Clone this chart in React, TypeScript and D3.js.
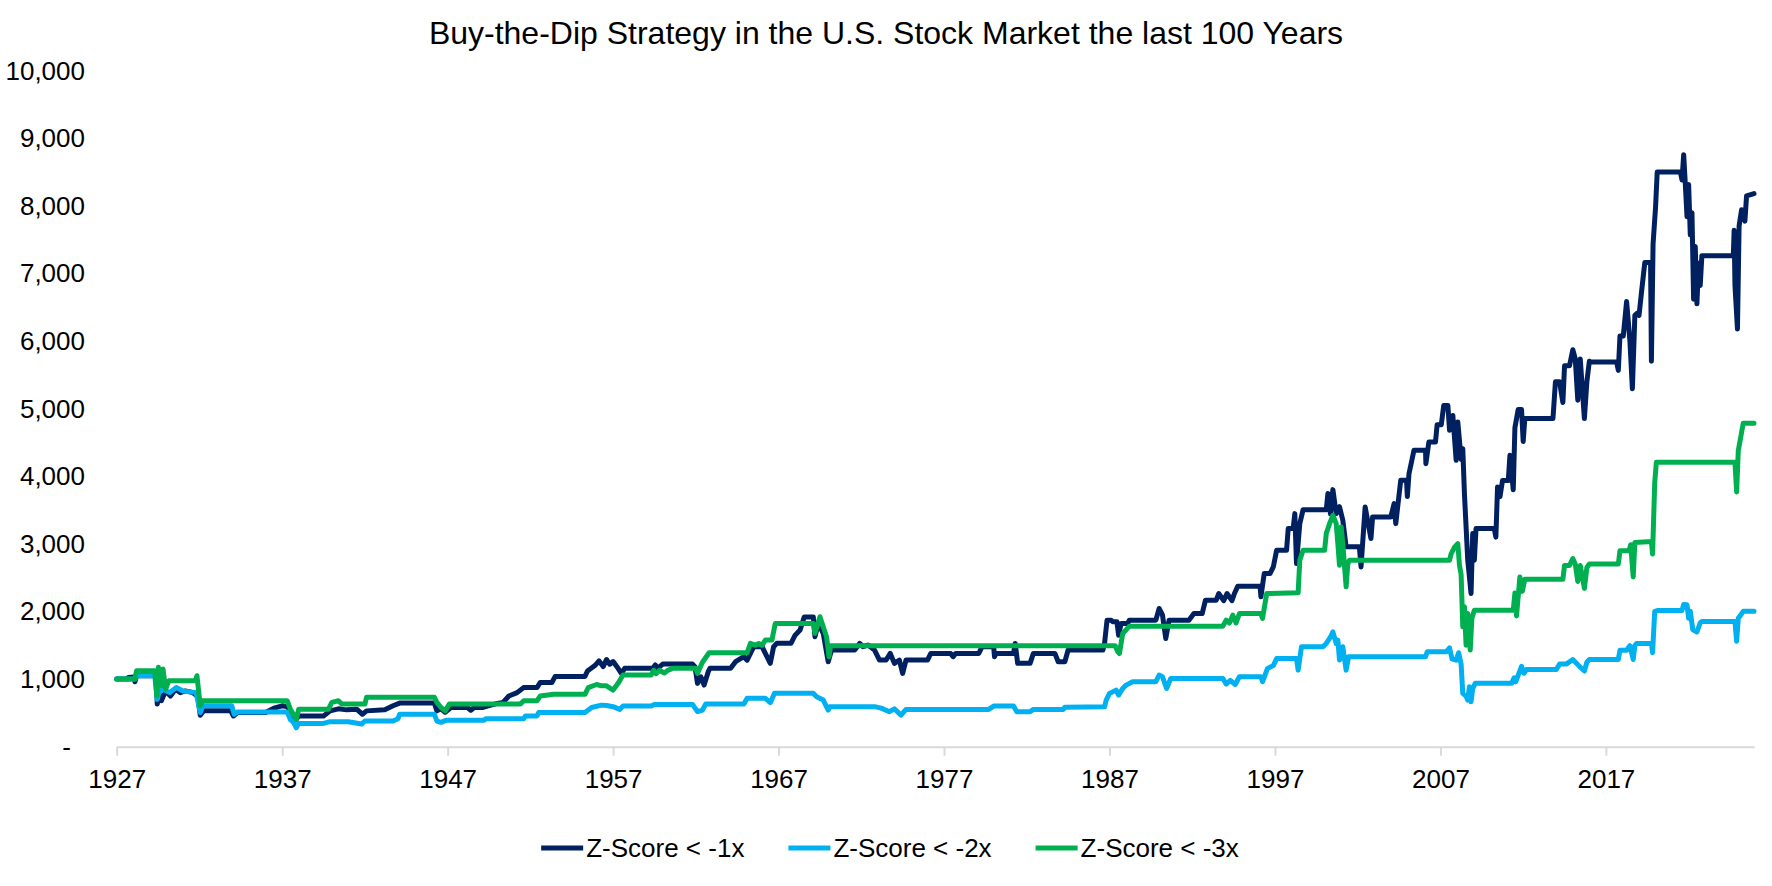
import React, { useEffect, useRef } from 'react'
import * as d3 from 'd3'

type Pt = [number, number]

const title = 'Buy-the-Dip Strategy in the U.S. Stock Market the last 100 Years'
const seriesNames = ['Z-Score < -1x', 'Z-Score < -2x', 'Z-Score < -3x']
const seriesColors = ['#002060', '#00B0F0', '#00B050']
const yTicks = [0, 1000, 2000, 3000, 4000, 5000, 6000, 7000, 8000, 9000, 10000]
const xTicks = [1927, 1937, 1947, 1957, 1967, 1977, 1987, 1997, 2007, 2017]
const xEnd = 2025.95

// [year, portfolio value] — buy when z-score < -1
const zMinus1: Pt[] = [
  [1927.0, 1000], [1927.65, 1000], [1927.7, 1025], [1928.05, 1030], [1928.1, 960], [1928.2, 1050],
  [1929.3, 1050], [1929.4, 1000], [1929.45, 630], [1929.55, 800], [1929.7, 680], [1929.95, 825],
  [1930.25, 750], [1930.55, 850], [1930.85, 800], [1931.15, 825], [1931.6, 800], [1931.9, 740],
  [1932.05, 465], [1932.25, 530], [1933.9, 530], [1934.05, 455], [1934.3, 505], [1936.0, 505],
  [1936.5, 570], [1937.0, 605], [1937.35, 590], [1937.55, 455], [1937.85, 405], [1938.0, 455],
  [1939.5, 455], [1939.9, 530], [1940.4, 560], [1940.9, 545], [1941.5, 555], [1941.85, 480],
  [1942.1, 530], [1943.2, 545], [1943.7, 605], [1944.1, 645], [1946.2, 645], [1946.35, 530],
  [1946.6, 560], [1946.85, 510], [1947.2, 580], [1948.2, 580], [1948.4, 540], [1948.6, 580],
  [1949.1, 580], [1949.4, 600], [1950.0, 640], [1950.35, 655], [1950.7, 750], [1951.2, 800],
  [1951.6, 875], [1952.4, 875], [1952.6, 950], [1953.3, 950], [1953.5, 1040], [1955.3, 1040],
  [1955.45, 1120], [1955.9, 1200], [1956.15, 1270], [1956.4, 1185], [1956.6, 1290], [1956.8, 1220],
  [1957.0, 1260], [1957.3, 1160], [1957.5, 1085], [1957.7, 1160], [1959.4, 1160], [1959.55, 1210],
  [1959.7, 1160], [1960.0, 1223], [1961.8, 1223], [1961.95, 1180], [1962.1, 937], [1962.3, 1035],
  [1962.5, 912], [1962.75, 1110], [1962.85, 1160], [1964.1, 1160], [1964.4, 1257], [1964.9, 1331],
  [1965.1, 1280], [1965.5, 1480], [1966.0, 1480], [1966.2, 1380], [1966.5, 1233], [1966.7, 1480],
  [1966.9, 1530], [1967.75, 1530], [1968.0, 1650], [1968.3, 1725], [1968.55, 1920], [1969.1, 1920],
  [1969.2, 1627], [1969.4, 1824], [1969.7, 1676], [1970.0, 1257], [1970.2, 1430], [1971.6, 1430],
  [1971.9, 1528], [1972.1, 1480], [1972.4, 1504], [1972.8, 1430], [1973.1, 1282], [1973.5, 1282],
  [1973.75, 1380], [1974.0, 1233], [1974.3, 1282], [1974.5, 1085], [1974.7, 1282], [1976.0, 1282],
  [1976.2, 1380], [1977.4, 1380], [1977.55, 1331], [1977.7, 1380], [1979.1, 1380], [1979.3, 1479],
  [1980.0, 1479], [1980.05, 1331], [1980.15, 1380], [1981.2, 1380], [1981.3, 1528], [1981.45, 1233],
  [1982.2, 1233], [1982.4, 1380], [1983.7, 1380], [1983.9, 1257], [1984.3, 1257], [1984.5, 1430],
  [1986.6, 1430], [1986.7, 1527], [1986.85, 1872], [1987.1, 1872], [1987.2, 1847], [1987.45, 1847],
  [1987.55, 1650], [1987.7, 1823], [1988.1, 1823], [1988.2, 1872], [1989.8, 1872], [1990.0, 2044],
  [1990.2, 1950], [1990.4, 1601], [1990.6, 1872], [1991.8, 1872], [1992.1, 1970], [1992.6, 1970],
  [1992.8, 2167], [1993.45, 2167], [1993.6, 2266], [1993.9, 2160], [1994.1, 2266], [1994.4, 2160],
  [1994.55, 2266], [1994.75, 2374], [1996.1, 2374], [1996.15, 2217], [1996.35, 2562], [1996.7, 2562],
  [1996.9, 2660], [1997.1, 2906], [1997.7, 2906], [1997.8, 3226], [1998.1, 3226], [1998.2, 3448],
  [1998.3, 2709], [1998.5, 3300], [1998.7, 3507], [2000.1, 3507], [2000.2, 3744], [2000.35, 3448],
  [2000.5, 3803], [2000.7, 3448], [2000.9, 3550], [2001.1, 3350], [2001.3, 2956], [2002.1, 2956],
  [2002.2, 2660], [2002.45, 3547], [2002.8, 3079], [2002.9, 3399], [2004.0, 3399], [2004.2, 3596],
  [2004.3, 3300], [2004.6, 3941], [2004.95, 3941], [2005.0, 3700], [2005.1, 4039], [2005.4, 4384],
  [2006.1, 4384], [2006.12, 4187], [2006.3, 4507], [2006.7, 4507], [2006.8, 4763], [2007.05, 4763],
  [2007.2, 5049], [2007.45, 5049], [2007.55, 4680], [2007.75, 4900], [2007.95, 4236], [2008.05, 4803],
  [2008.25, 4250], [2008.35, 4409], [2008.45, 3744], [2008.65, 2759], [2008.85, 2266], [2008.95, 3153],
  [2009.05, 2759], [2009.15, 3226], [2010.25, 3226], [2010.35, 3100], [2010.45, 3842], [2010.6, 3700],
  [2010.75, 3937], [2011.1, 3937], [2011.2, 4311], [2011.4, 3802], [2011.5, 4718], [2011.7, 4990],
  [2011.9, 4990], [2012.0, 4515], [2012.1, 4854], [2013.8, 4854], [2013.95, 5397], [2014.2, 5397],
  [2014.4, 5092], [2014.5, 5635], [2014.8, 5635], [2015.0, 5872], [2015.15, 5735], [2015.3, 5126],
  [2015.45, 5737], [2015.7, 4854], [2015.85, 5400], [2016.0, 5703], [2016.1, 5689], [2017.65, 5689],
  [2017.75, 5567], [2017.85, 6076], [2018.05, 6076], [2018.25, 6585], [2018.45, 6008], [2018.6, 5295],
  [2018.75, 6381], [2018.9, 6415], [2019.0, 6380], [2019.15, 6721], [2019.35, 7162], [2019.7, 7162],
  [2019.75, 5703], [2019.85, 7434], [2020.0, 7977], [2020.1, 8500], [2021.5, 8500], [2021.6, 8384],
  [2021.7, 8758], [2021.8, 8317], [2021.9, 7841], [2022.0, 8317], [2022.1, 7570], [2022.2, 7900],
  [2022.3, 6619], [2022.4, 7400], [2022.5, 6551], [2022.6, 7150], [2022.7, 6823], [2022.8, 7264],
  [2024.7, 7264], [2024.75, 7638], [2024.8, 6823], [2024.95, 6178], [2025.05, 7706], [2025.2, 7943],
  [2025.4, 7774], [2025.5, 8147], [2025.95, 8181],
]

// buy when z-score < -2
const zMinus2: Pt[] = [
  [1927.0, 1000], [1928.1, 1000], [1928.2, 1050], [1929.3, 1050], [1929.45, 700], [1929.55, 800],
  [1929.8, 850], [1930.2, 800], [1930.6, 875], [1931.0, 825], [1931.8, 800], [1932.05, 505],
  [1932.2, 605], [1933.95, 605], [1934.1, 480], [1934.3, 515], [1937.3, 515], [1937.5, 400],
  [1937.7, 355], [1937.85, 280], [1938.0, 345], [1939.5, 345], [1939.9, 370], [1941.0, 370],
  [1941.8, 335], [1942.0, 380], [1943.7, 380], [1944.0, 415], [1944.1, 480], [1946.2, 480],
  [1946.35, 380], [1946.6, 360], [1946.9, 390], [1949.2, 390], [1949.3, 415], [1951.6, 415],
  [1951.7, 455], [1952.4, 455], [1952.5, 505], [1955.3, 505], [1955.7, 580], [1956.3, 615],
  [1956.6, 610], [1957.0, 592], [1957.4, 552], [1957.6, 601], [1959.3, 601], [1959.5, 626],
  [1961.8, 626], [1962.1, 518], [1962.4, 542], [1962.6, 631], [1964.9, 631], [1965.1, 715],
  [1966.2, 715], [1966.5, 651], [1966.75, 789], [1969.1, 789], [1969.3, 740], [1969.7, 690],
  [1970.0, 542], [1970.1, 592], [1972.8, 592], [1973.2, 570], [1973.7, 518], [1974.0, 560],
  [1974.4, 468], [1974.7, 552], [1979.7, 552], [1980.0, 601], [1981.2, 601], [1981.4, 518],
  [1982.2, 518], [1982.4, 552], [1984.2, 552], [1984.3, 582], [1986.7, 590], [1986.8, 690],
  [1987.0, 788], [1987.4, 837], [1987.55, 763], [1987.8, 862], [1988.0, 911], [1988.4, 961],
  [1989.8, 961], [1990.0, 1059], [1990.2, 1035], [1990.45, 862], [1990.7, 1010], [1993.85, 1010],
  [1994.05, 926], [1994.3, 980], [1994.6, 920], [1994.85, 1034], [1996.15, 1034], [1996.25, 961],
  [1996.55, 1158], [1996.9, 1200], [1997.1, 1305], [1998.3, 1305], [1998.4, 1133], [1998.6, 1478],
  [1999.9, 1478], [2000.1, 1527], [2000.35, 1620], [2000.5, 1699], [2000.7, 1527], [2000.8, 1576],
  [2000.9, 1281], [2001.1, 1478], [2001.3, 1133], [2001.45, 1330], [2006.1, 1330], [2006.2, 1404],
  [2007.35, 1404], [2007.55, 1460], [2007.7, 1300], [2007.95, 1281], [2008.1, 1390], [2008.25, 1222],
  [2008.35, 788], [2008.55, 747], [2008.65, 690], [2008.75, 887], [2008.85, 665], [2008.95, 860],
  [2009.1, 937], [2011.3, 937], [2011.45, 1018], [2011.55, 960], [2011.9, 1188], [2012.05, 1086],
  [2012.2, 1141], [2014.0, 1141], [2014.2, 1222], [2014.6, 1222], [2015.0, 1290], [2015.4, 1188],
  [2015.7, 1120], [2015.85, 1250], [2016.0, 1290], [2017.75, 1290], [2017.85, 1426], [2018.25, 1426],
  [2018.45, 1494], [2018.65, 1290], [2018.75, 1494], [2018.85, 1528], [2019.75, 1528], [2019.82, 1392],
  [2019.95, 2003], [2020.15, 2016], [2021.6, 2016], [2021.7, 2105], [2021.9, 2100], [2022.0, 1900],
  [2022.1, 2003], [2022.25, 1731], [2022.5, 1697], [2022.7, 1833], [2022.8, 1853], [2024.8, 1853],
  [2024.9, 1561], [2025.0, 1901], [2025.1, 1930], [2025.3, 2003], [2025.95, 2003],
]

// buy when z-score < -3
const zMinus3: Pt[] = [
  [1927.0, 1000], [1928.1, 1000], [1928.2, 1125], [1929.3, 1125], [1929.43, 750], [1929.52, 1175],
  [1929.65, 900], [1929.8, 1150], [1929.95, 850], [1930.15, 975], [1931.75, 975], [1931.85, 1050],
  [1932.05, 605], [1932.2, 680], [1937.3, 680], [1937.5, 555], [1937.85, 405], [1938.0, 555],
  [1939.8, 555], [1940.0, 655], [1940.4, 680], [1940.6, 630], [1942.0, 630], [1942.1, 730],
  [1946.2, 730], [1946.35, 655], [1946.6, 580], [1946.85, 530], [1947.1, 630], [1951.4, 630],
  [1951.6, 680], [1952.4, 680], [1952.6, 750], [1953.4, 775], [1955.3, 775], [1955.5, 875],
  [1956.0, 920], [1956.3, 900], [1956.6, 900], [1957.0, 838], [1957.3, 937], [1957.6, 1060],
  [1959.3, 1060], [1959.45, 1130], [1959.6, 1080], [1959.8, 1130], [1960.1, 1090], [1960.3, 1130],
  [1960.6, 1159], [1962.0, 1159], [1962.1, 1085], [1962.4, 1250], [1962.8, 1390], [1965.1, 1390],
  [1965.3, 1528], [1965.6, 1500], [1965.8, 1528], [1966.0, 1500], [1966.2, 1577], [1966.6, 1577],
  [1966.8, 1824], [1969.1, 1824], [1969.2, 1676], [1969.5, 1923], [1969.7, 1775], [1969.9, 1627],
  [1970.05, 1331], [1970.15, 1494], [1987.35, 1494], [1987.5, 1405], [1987.6, 1379], [1987.8, 1675],
  [1988.2, 1783], [1993.85, 1783], [1994.05, 1872], [1994.25, 1830], [1994.45, 1946], [1994.65, 1830],
  [1994.85, 1970], [1996.15, 1970], [1996.25, 1897], [1996.5, 2266], [1998.4, 2276], [1998.5, 2759],
  [1998.7, 2906], [2000.0, 2906], [2000.1, 3153], [2000.3, 3300], [2000.5, 3424], [2000.7, 3300],
  [2000.8, 3005], [2000.9, 2685], [2001.0, 3251], [2001.1, 3000], [2001.3, 2365], [2001.4, 2700],
  [2001.5, 2759], [2007.55, 2759], [2007.65, 2857], [2007.85, 2950], [2008.05, 3005], [2008.15, 2682],
  [2008.25, 2546], [2008.35, 1773], [2008.45, 2071], [2008.55, 1502], [2008.65, 1970], [2008.8, 1429],
  [2008.9, 1900], [2009.05, 2020], [2011.4, 2020], [2011.5, 2274], [2011.6, 1935], [2011.8, 2512],
  [2011.95, 2300], [2012.1, 2478], [2014.4, 2478], [2014.5, 2682], [2014.8, 2682], [2015.0, 2783],
  [2015.15, 2700], [2015.3, 2444], [2015.45, 2682], [2015.7, 2342], [2015.85, 2650], [2016.0, 2702],
  [2017.75, 2702], [2017.85, 2899], [2018.4, 2899], [2018.5, 2987], [2018.65, 2512], [2018.75, 3021],
  [2019.75, 3035], [2019.82, 2851], [2019.95, 3904], [2020.05, 4209], [2024.8, 4209], [2024.9, 3768],
  [2025.0, 4379], [2025.1, 4515], [2025.3, 4786], [2025.95, 4786],
]

const allSeries = [zMinus1, zMinus2, zMinus3]

function BuyTheDipChart() {
  const svgRef = useRef<SVGSVGElement>(null)

  useEffect(() => {
    const width = 1772
    const height = 886
    const plot = { left: 116.7, right: 1754, top: 70.7, bottom: 746.7 }
    const font = "'Liberation Sans', Arial, sans-serif"
    const lineWidth = 5

    const svg = d3.select(svgRef.current)
    svg.selectAll('*').remove()
    svg.attr('width', width).attr('height', height).attr('font-family', font)

    svg.append('rect').attr('width', width).attr('height', height).attr('fill', '#fff')

    svg.append('text')
      .attr('x', width / 2)
      .attr('y', 44)
      .attr('text-anchor', 'middle')
      .attr('font-size', 32)
      .attr('fill', '#000')
      .text(title)

    const x = d3.scaleLinear().domain([xTicks[0], xEnd]).range([plot.left, plot.right])
    const y = d3.scaleLinear().domain([0, 10000]).range([plot.bottom, plot.top])

    // value axis: labels only, zero shown as a dash
    const yAxis = d3.axisLeft(y)
      .tickValues(yTicks)
      .tickSize(0)
      .tickPadding(31.7)
      .tickFormat(d => (+d === 0 ? '-' : d3.format(',')(+d)))
    const yG = svg.append('g')
      .attr('transform', `translate(${plot.left},0)`)
      .call(yAxis)
    yG.select('.domain').remove()
    yG.selectAll('text')
      .attr('font-size', 26)
      .attr('font-family', font)
      .attr('fill', '#000')
      .attr('dx', d => (+(d as number) === 0 ? -14 : 0))

    // date axis along the bottom
    const xAxis = d3.axisBottom(x)
      .tickValues(xTicks)
      .tickSize(9)
      .tickSizeOuter(0)
      .tickPadding(14.3)
      .tickFormat(d => String(d))
    const xG = svg.append('g')
      .attr('transform', `translate(0,${plot.bottom})`)
      .call(xAxis)
    xG.select('.domain').attr('stroke', '#D9D9D9').attr('stroke-width', 2)
    xG.selectAll('.tick line').attr('stroke', '#D9D9D9').attr('stroke-width', 2)
    xG.selectAll('text')
      .attr('font-size', 26)
      .attr('font-family', font)
      .attr('fill', '#000')

    const line = d3.line<Pt>()
      .x(d => x(d[0]))
      .y(d => y(d[1]))

    allSeries.forEach((data, i) => {
      svg.append('path')
        .datum(data)
        .attr('fill', 'none')
        .attr('stroke', seriesColors[i])
        .attr('stroke-width', lineWidth)
        .attr('stroke-linejoin', 'round')
        .attr('stroke-linecap', 'round')
        .attr('d', line)
    })

    // legend centred under the plot
    const legend = svg.append('g')
    const sampleLen = 42
    const gap = 3
    const spacing = 44
    let cursor = 0
    seriesNames.forEach((name, i) => {
      const item = legend.append('g').attr('transform', `translate(${cursor},0)`)
      item.append('line')
        .attr('x1', 0).attr('x2', sampleLen)
        .attr('y1', 0).attr('y2', 0)
        .attr('stroke', seriesColors[i])
        .attr('stroke-width', lineWidth)
      const label = item.append('text')
        .attr('x', sampleLen + gap)
        .attr('y', 0)
        .attr('dy', '0.35em')
        .attr('font-size', 26)
        .attr('fill', '#000')
        .text(name)
      const w = (label.node() as SVGTextElement).getComputedTextLength()
      cursor += sampleLen + gap + w + spacing
    })
    const total = cursor - spacing
    legend.attr('transform', `translate(${890 - total / 2},848)`)
  }, [])

  return (
    <svg ref={svgRef} style={{ position: 'absolute', left: 0, top: 0, display: 'block' }} />
  )
}

export default function App() {
  return <BuyTheDipChart />
}
